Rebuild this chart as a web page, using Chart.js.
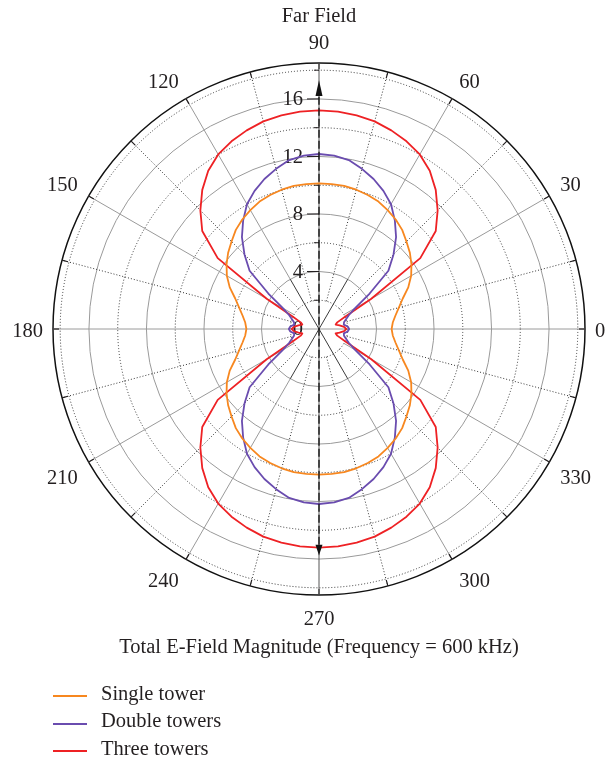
<!DOCTYPE html>
<html>
<head>
<meta charset="utf-8">
<title>Far Field</title>
<script src="https://cdn.jsdelivr.net/npm/chart.js@4.4.1/dist/chart.umd.min.js"></script>
<style>
  html, body { margin: 0; padding: 0; background: #fff; overflow: hidden; }
  #wrap { position: relative; width: 611px; height: 758px; }
  #legend { position: absolute; left: 53px; top: 680px; margin: 0; padding: 0; list-style: none;
            font-family: 'Liberation Serif', 'Times New Roman', serif; font-size: 20.5px; color: #231f20; }
  #legend li { height: 27.3px; line-height: 27.3px; white-space: nowrap; }
  #legend .swatch { display: inline-block; width: 34px; height: 2px; margin-right: 14px; vertical-align: middle; position: relative; top: 1px; }
</style>
</head>
<body>
<div id="wrap"><canvas id="myChart"></canvas><ul id="legend"></ul></div>
<script>
// angle in degrees, counter-clockwise from the right
var angles = [0, 5, 10, 15, 20, 25, 30, 35, 40, 45, 50, 55, 60, 65, 70, 75, 80, 85,
    90, 95, 100, 105, 110, 115, 120, 125, 130, 135, 140, 145, 150, 155, 160, 165, 170, 175,
    180, 185, 190, 195, 200, 205, 210, 215, 220, 225, 230, 235, 240, 245, 250, 255, 260, 265,
    270, 275, 280, 285, 290, 295, 300, 305, 310, 315, 320, 325, 330, 335, 340, 345, 350, 355];

var singleTower = [5.05, 5.15, 5.4, 5.75, 6.2, 6.85, 7.4, 7.85, 8.25, 8.6, 9.0, 9.3, 9.55, 9.78, 9.92, 10.03, 10.1, 10.12,
    10.13, 10.12, 10.1, 10.03, 9.92, 9.78, 9.55, 9.3, 9.0, 8.6, 8.25, 7.85, 7.4, 6.85, 6.2, 5.75, 5.4, 5.15,
    5.05, 5.15, 5.4, 5.75, 6.2, 6.85, 7.4, 7.85, 8.25, 8.6, 9.0, 9.3, 9.55, 9.78, 9.92, 10.03, 10.1, 10.12,
    10.13, 10.12, 10.1, 10.03, 9.92, 9.78, 9.55, 9.3, 9.0, 8.6, 8.25, 7.85, 7.4, 6.85, 6.2, 5.75, 5.4, 5.15];

var doubleTowers = [2.1, 2.0, 1.75, 1.8, 2.0, 2.3, 2.9, 4.3, 6.3, 7.33, 8.34, 9.2, 10.02, 10.6, 11.1, 11.53, 11.93, 12.1,
    12.17, 12.1, 11.93, 11.53, 11.1, 10.6, 10.02, 9.2, 8.34, 7.33, 6.3, 4.3, 2.9, 2.3, 2.0, 1.8, 1.75, 2.0,
    2.1, 2.0, 1.75, 1.8, 2.0, 2.3, 2.9, 4.3, 6.3, 7.33, 8.34, 9.2, 10.02, 10.6, 11.1, 11.53, 11.93, 12.1,
    12.17, 12.1, 11.93, 11.53, 11.1, 10.6, 10.02, 9.2, 8.34, 7.33, 6.3, 4.3, 2.9, 2.3, 2.0, 1.8, 1.75, 2.0];

var threeTowers = [1.9, 1.75, 1.45, 1.2, 1.35, 2.0, 4.2, 8.6, 10.6, 11.67, 12.63, 13.43, 14.02, 14.4, 14.7, 14.95, 15.08, 15.17,
    15.2, 15.17, 15.08, 14.95, 14.7, 14.4, 14.02, 13.43, 12.63, 11.67, 10.6, 8.6, 4.2, 2.0, 1.35, 1.2, 1.45, 1.75,
    1.9, 1.75, 1.45, 1.2, 1.35, 2.0, 4.2, 8.6, 10.6, 11.67, 12.63, 13.43, 14.02, 14.4, 14.7, 14.95, 15.08, 15.17,
    15.2, 15.17, 15.08, 14.95, 14.7, 14.4, 14.02, 13.43, 12.63, 11.67, 10.6, 8.6, 4.2, 2.0, 1.35, 1.2, 1.45, 1.75];

var angleLabels = [0, 30, 60, 90, 120, 150, 180, 210, 240, 270, 300, 330];
var radialTicks = [0, 2, 4, 6, 8, 10, 12, 14, 16, 18];
var radialLabels = [0, 4, 8, 12, 16];
var radialMax = 18.5;

var FONT = "'Liberation Serif', 'Times New Roman', serif";
var FSIZE = 20.5;
var INK = '#231f20';

// radar goes clockwise from the top, the plot goes counter-clockwise from the right
var order = angles.map(function (a, i) { return (450 - 5 * i) % 360; });

function byOrder(series) {
    return order.map(function (a) { return series[angles.indexOf(a)]; });
}

function idx(a) {
    return order.indexOf(((a % 360) + 360) % 360);
}

var polarFrame = {
    id: 'polarFrame',
    beforeDatasetsDraw: function (chart) {
        var s = chart.scales.r, ctx = chart.ctx;
        var pxUnit = s.getDistanceFromCenterForValue(radialMax) / radialMax;
        function p(a, v) { return s.getPointPositionForValue(idx(a), v); }
        function seg(a, v0, v1) {
            var q0 = p(a, v0), q1 = p(a, v1);
            ctx.beginPath(); ctx.moveTo(q0.x, q0.y); ctx.lineTo(q1.x, q1.y); ctx.stroke();
        }
        ctx.save();
        ctx.lineWidth = 1;
        for (var a = 0; a < 360; a += 15) {
            if (a === 90 || a === 270) continue;
            ctx.setLineDash([]);
            if (a % 180 === 0) {
                ctx.strokeStyle = '#9a9a9a'; seg(a, 0, radialMax);
            } else if (a % 60 === 0) {
                ctx.strokeStyle = '#9a9a9a'; seg(a, 4, radialMax);
                ctx.strokeStyle = '#3a3a3a'; seg(a, 0, 4);
            } else if (a % 30 === 0) {
                ctx.strokeStyle = '#9a9a9a'; seg(a, 2, radialMax);
            } else {
                ctx.strokeStyle = '#333'; ctx.setLineDash([1, 2]); seg(a, 2, radialMax);
            }
        }
        // short ticks on the rim
        ctx.setLineDash([]);
        ctx.strokeStyle = INK;
        ctx.lineWidth = 1.2;
        for (a = 0; a < 360; a += 15) {
            seg(a, radialMax - 6 / pxUnit, radialMax);
        }
        // thin axis line 90-270 and its ticks
        ctx.strokeStyle = '#555';
        ctx.lineWidth = 1;
        var t = p(90, radialMax), b = p(270, radialMax);
        ctx.beginPath(); ctx.moveTo(t.x, t.y); ctx.lineTo(b.x, b.y); ctx.stroke();
        ctx.strokeStyle = INK;
        radialTicks.forEach(function (v) {
            if (v === 0) return;
            var q = p(90, v), len = v % 4 === 0 ? 12 : 5;
            ctx.beginPath(); ctx.moveTo(q.x - len, q.y); ctx.lineTo(q.x, q.y); ctx.stroke();
        });
        ctx.font = FSIZE + 'px ' + FONT;
        ctx.fillStyle = INK;
        ctx.textAlign = 'right';
        ctx.textBaseline = 'middle';
        radialLabels.forEach(function (v) {
            var q = p(90, v);
            ctx.fillText(String(v), s.xCenter - 16, q.y + 1);
        });
        ctx.restore();
    },
    afterDatasetsDraw: function (chart) {
        var s = chart.scales.r, ctx = chart.ctx;
        function p(a, v) { return s.getPointPositionForValue(idx(a), v); }
        ctx.save();
        // dashed axis between the arrows
        var q0 = p(270, 15.0), q1 = p(90, 16.2);
        ctx.strokeStyle = '#111';
        ctx.lineWidth = 1.3;
        ctx.setLineDash([8, 3]);
        ctx.beginPath(); ctx.moveTo(q0.x, q0.y); ctx.lineTo(q1.x, q1.y); ctx.stroke();
        ctx.setLineDash([]);
        function arrow(a, base, tip) {
            var bq = p(a, base), tq = p(a, tip);
            var dx = tq.x - bq.x, dy = tq.y - bq.y, l = Math.sqrt(dx * dx + dy * dy) || 1;
            var nx = -dy / l * 3.5, ny = dx / l * 3.5;
            ctx.beginPath();
            ctx.moveTo(tq.x, tq.y);
            ctx.lineTo(bq.x + nx, bq.y + ny);
            ctx.lineTo(bq.x - nx, bq.y - ny);
            ctx.closePath();
            ctx.fillStyle = '#111';
            ctx.fill();
        }
        arrow(90, 16.2, 17.3);
        arrow(270, 15.0, 15.75);

        // angle labels
        ctx.font = FSIZE + 'px ' + FONT;
        ctx.fillStyle = INK;
        ctx.textAlign = 'center';
        ctx.textBaseline = 'middle';
        angleLabels.forEach(function (a) {
            var rad = a * Math.PI / 180, c = Math.cos(rad), sn = Math.sin(rad);
            var q = s.getPointPosition(idx(a), s.drawingArea + 10 + 5 * Math.abs(sn));
            var w = ctx.measureText(String(a)).width;
            var sx = Math.abs(c) < 0.01 ? 0 : (c > 0 ? 1 : -1);
            var sy = Math.abs(sn) < 0.01 ? 0 : (sn > 0 ? -1 : 1);
            ctx.fillText(String(a), q.x + sx * w / 2, q.y + sy * 7 + 3);
        });
        ctx.restore();
    }
};

var chart = new Chart(document.getElementById('myChart'), {
    type: 'radar',
    data: {
        labels: order.map(String),
        datasets: [{
            label: 'Single tower',
            data: byOrder(singleTower),
            borderColor: '#f7871f'
        }, {
            label: 'Double towers',
            data: byOrder(doubleTowers),
            borderColor: '#6a4caf'
        }, {
            label: 'Three towers',
            data: byOrder(threeTowers),
            borderColor: '#ee2124'
        }]
    },
    options: {
        responsive: true,
        maintainAspectRatio: false,
        animation: false,
        events: [],
        layout: { padding: { left: 47, right: 20, top: 0, bottom: 0 } },
        elements: {
            line: { borderWidth: 1.8, tension: 0, fill: false, backgroundColor: 'rgba(0,0,0,0)', borderJoinStyle: 'round' },
            point: { radius: 0, hitRadius: 0, hoverRadius: 0 }
        },
        scales: {
            r: {
                min: 0,
                max: radialMax,
                startAngle: 0,
                afterBuildTicks: function (s) {
                    s.ticks = radialTicks.concat([radialMax]).map(function (v) { return { value: v }; });
                },
                ticks: { display: false },
                pointLabels: { display: false },
                angleLines: { display: false },
                grid: {
                    circular: true,
                    color: function (c) {
                        if (!c.tick) return '#9a9a9a';
                        if (c.tick.value === radialMax) return '#111';
                        return c.tick.value % 4 === 0 ? '#9a9a9a' : '#333';
                    },
                    lineWidth: function (c) {
                        return c.tick && c.tick.value === radialMax ? 1.5 : 1;
                    }
                },
                border: {
                    dash: function (c) {
                        if (!c.tick || c.tick.value === radialMax) return [];
                        return c.tick.value % 4 === 0 ? [] : [1, 2];
                    }
                }
            }
        },
        plugins: {
            title: {
                display: true,
                text: 'Far Field',
                color: INK,
                font: { family: FONT, size: FSIZE, weight: 'normal' },
                padding: { top: 4, bottom: 34.4 }
            },
            subtitle: {
                display: true,
                position: 'bottom',
                text: 'Total E-Field Magnitude (Frequency = 600 kHz)',
                color: INK,
                font: { family: FONT, size: FSIZE, weight: 'normal' },
                padding: { top: 40, bottom: 98.4 }
            },
            legend: { display: false },
            tooltip: { enabled: false }
        }
    },
    plugins: [polarFrame]
});

// legend built from the chart's datasets
var legendBox = document.getElementById('legend');
chart.data.datasets.forEach(function (ds) {
    var li = document.createElement('li');
    var sw = document.createElement('span');
    sw.className = 'swatch';
    sw.style.background = ds.borderColor;
    li.appendChild(sw);
    li.appendChild(document.createTextNode(ds.label));
    legendBox.appendChild(li);
});
</script>
</body>
</html>
